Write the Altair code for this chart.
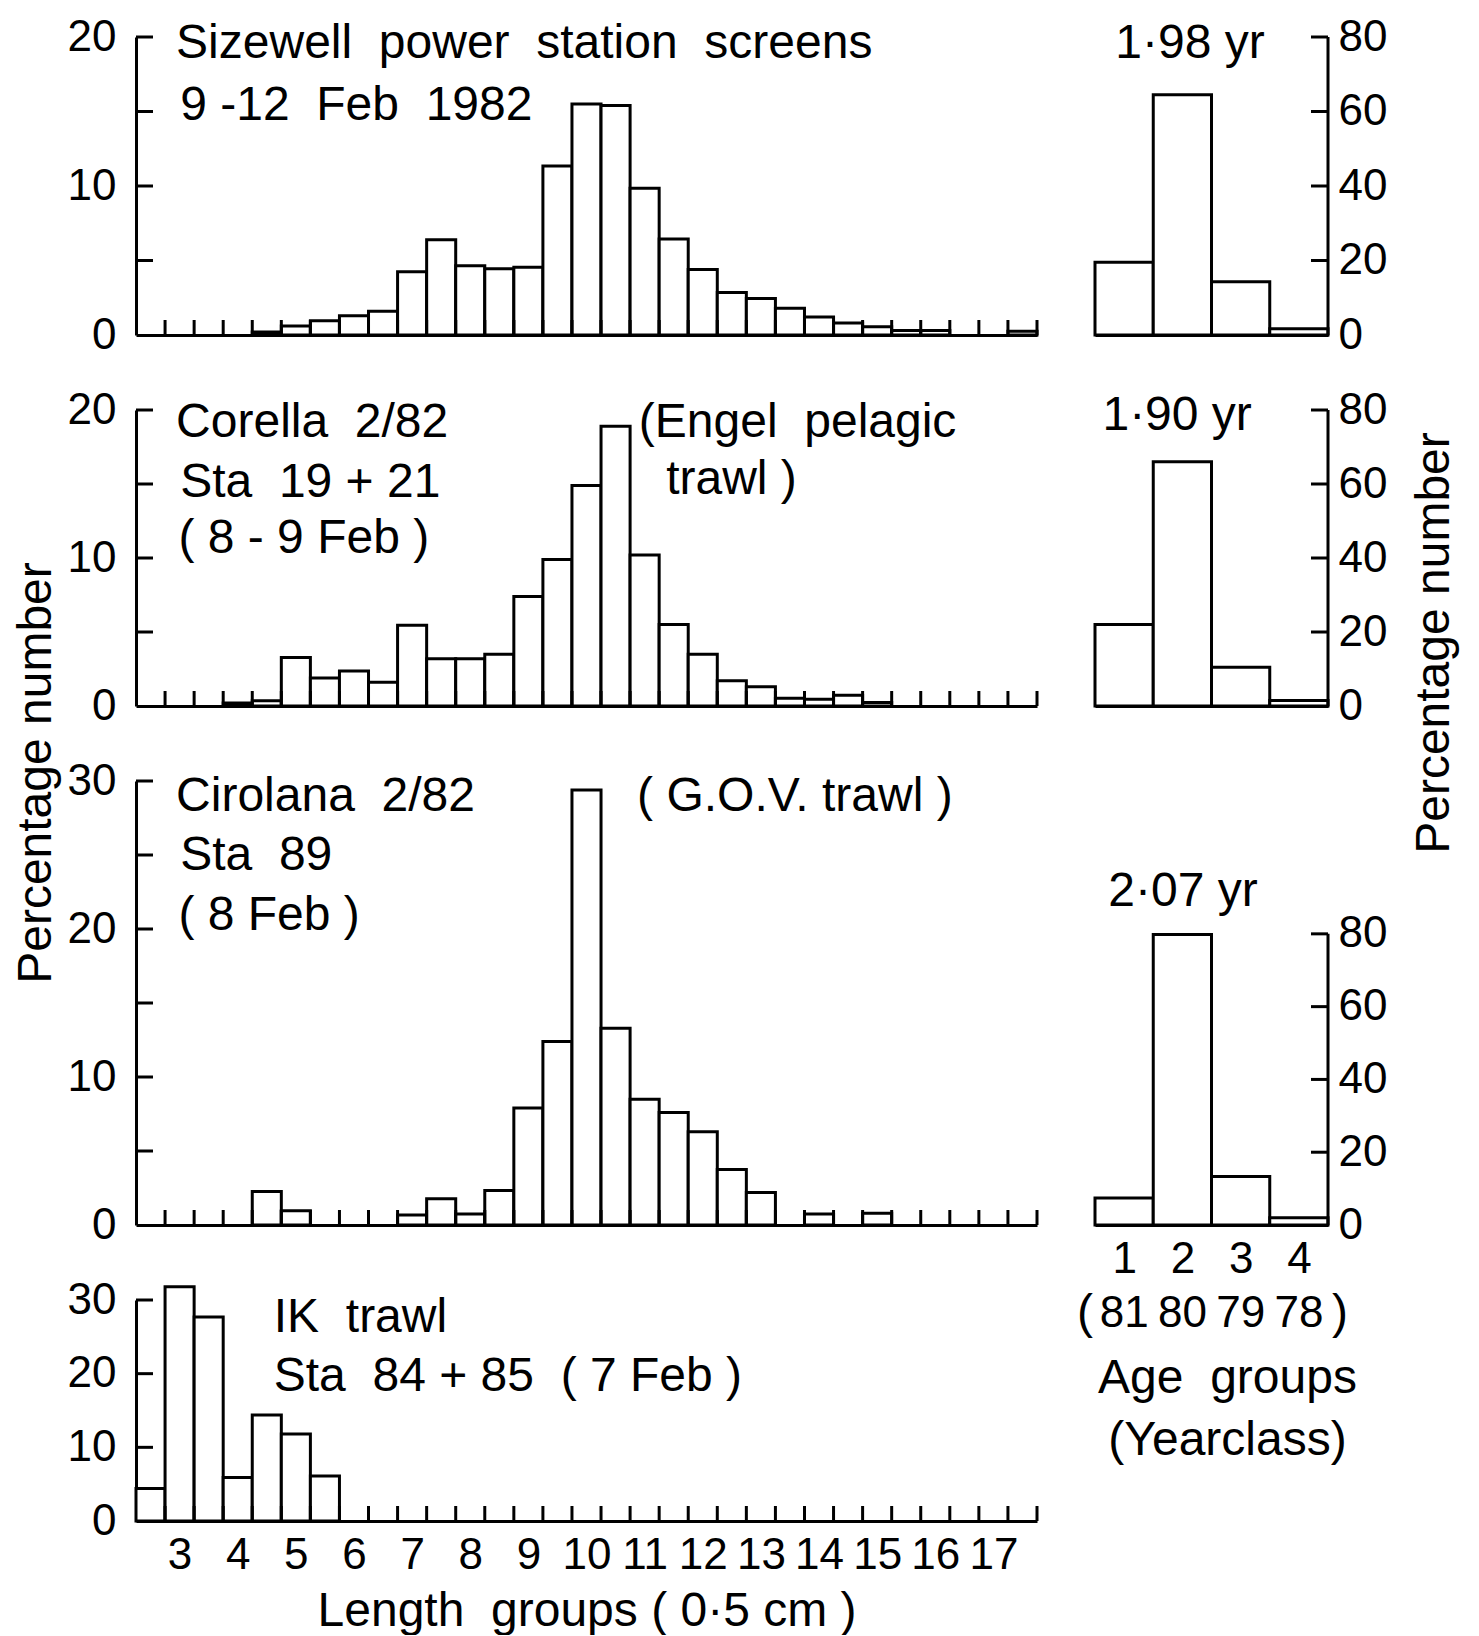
import altair as alt
import pandas as pd

# ---------------- data ----------------
LENGTHS = [2.5, 3.0, 3.5, 4.0, 4.5, 5.0, 5.5, 6.0, 6.5, 7.0, 7.5, 8.0, 8.5, 9.0, 9.5,
           10.0, 10.5, 11.0, 11.5, 12.0, 12.5, 13.0, 13.5, 14.0, 14.5, 15.0, 15.5,
           16.0, 16.5, 17.0, 17.5]
LENGTH_LABELS = [3, 4, 5, 6, 7, 8, 9, 10, 11, 12, 13, 14, 15, 16, 17]

SIZEWELL = [0, 0, 0, 0, 0.2, 0.6, 0.95, 1.3, 1.6, 4.25, 6.4, 4.65, 4.45, 4.55, 11.35,
            15.5, 15.4, 9.85, 6.45, 4.4, 2.85, 2.45, 1.8, 1.2, 0.8, 0.55, 0.3,
            0.3, 0, 0, 0.25]
CORELLA = [0, 0, 0, 0.2, 0.35, 3.27, 1.9, 2.36, 1.6, 5.45, 3.2, 3.2, 3.5, 7.4, 9.9,
           14.9, 18.9, 10.2, 5.5, 3.5, 1.7, 1.3, 0.52, 0.45, 0.73, 0.23, 0,
           0, 0, 0, 0]
CIROLANA = [0, 0, 0, 0, 2.27, 0.97, 0, 0, 0, 0.68, 1.77, 0.75, 2.33, 7.9, 12.4,
            29.4, 13.3, 8.5, 7.6, 6.3, 3.75, 2.2, 0, 0.75, 0, 0.8, 0,
            0, 0, 0, 0]
IK = [4.4, 31.8, 27.7, 5.9, 14.4, 11.8, 6.1, 0, 0, 0, 0, 0, 0, 0, 0,
      0, 0, 0, 0, 0, 0, 0, 0, 0, 0, 0, 0,
      0, 0, 0, 0]

AGE_GROUPS = [1, 2, 3, 4]
YEARCLASS = ["81", "80", "79", "78"]
AGE_SIZEWELL = [19.5, 64.5, 14.3, 1.7]
AGE_CORELLA = [22.0, 66.0, 10.5, 1.5]
AGE_CIROLANA = [7.4, 79.8, 13.3, 2.0]

# ---------------- style ----------------
FONT_TXT = "Liberation Sans, Arial, sans-serif"
FONT_NUM = "Liberation Sans, Arial, sans-serif"
FS = 48
FSN = 44
LW = 3
W_L = 901
W_R = 233
NB = "\u00a0"


def sp(s):
    return s.replace("  ", " " + NB)


def hist_panel(values, ymax, yticks, ylabels, height, notes, bottom=False, ytitle=None):
    df = pd.DataFrame({"len": LENGTHS, "pct": values})
    xs = alt.Scale(domain=[2.25, 17.75], nice=False, zero=False)
    ys = alt.Scale(domain=[0, ymax], nice=False, zero=True)
    if bottom:
        xaxis = alt.Axis(values=LENGTH_LABELS, ticks=False, domain=True,
                         domainColor="black", domainWidth=LW, grid=False,
                         labelFont=FONT_NUM, labelFontSize=FSN, labelColor="black",
                         labelPadding=12, labelFlush=False, labelOverlap=False, labelAngle=0,
                         title=sp("Length  groups ( 0·5 cm )"), titleFont=FONT_TXT, titleFontSize=FS,
                         titleFontWeight="normal", titleColor="black", titlePadding=10)
    else:
        xaxis = alt.Axis(labels=False, ticks=False, domain=True,
                         domainColor="black", domainWidth=LW, grid=False, title=None)
    yaxis = alt.Axis(values=ylabels, ticks=False, domain=True, domainColor="black",
                     domainWidth=LW, grid=False, labelFont=FONT_NUM, labelFontSize=FSN,
                     labelColor="black", labelPadding=20, labelFlush=False, labelOverlap=False,
                     title=None)

    bars = alt.Chart(df).transform_filter("datum.pct > 0").transform_calculate(
        lo="datum.len - 0.25", hi="datum.len + 0.25"
    ).mark_rect(fill="white", stroke="black", strokeWidth=LW).encode(
        x=alt.X("lo:Q", scale=xs, axis=xaxis),
        x2="hi:Q",
        y=alt.Y("pct:Q", scale=ys, axis=yaxis),
        y2=alt.datum(0),
    )
    xtick = alt.Chart(df).transform_calculate(e="datum.len + 0.25").mark_rule(
        color="black", strokeWidth=LW
    ).encode(
        x=alt.X("e:Q", scale=xs, axis=xaxis),
        y=alt.value(height),
        y2=alt.value(height - 15),
    )
    ytick = alt.Chart(pd.DataFrame({"v": yticks})).mark_rule(
        color="black", strokeWidth=LW
    ).encode(
        y=alt.Y("v:Q", scale=ys, axis=yaxis),
        x=alt.value(0),
        x2=alt.value(17),
    )
    ndf = pd.DataFrame(notes, columns=["t", "x", "y"])
    ndf["t"] = ndf["t"].map(sp)
    txt = alt.Chart(ndf).mark_text(
        align="left", baseline="middle", font=FONT_TXT, fontSize=FS, color="black"
    ).encode(
        x=alt.X("x:Q", scale=xs, axis=xaxis),
        y=alt.Y("y:Q", scale=ys, axis=yaxis),
        text="t:N",
    )
    layers = [bars, xtick, ytick, txt]
    if ytitle:
        tt = alt.Chart(pd.DataFrame({"t": [ytitle]})).mark_text(
            angle=270, align="center", baseline="middle", font=FONT_TXT, fontSize=FS,
            color="black"
        ).encode(x=alt.value(-99), y=alt.value(-8), text="t:N")
        layers.append(tt)
    return alt.layer(*layers).properties(width=W_L, height=height)


def age_panel(values, ymax, height, note, bottom=False, ytitle=None):
    df = pd.DataFrame({"age": AGE_GROUPS, "pct": values, "yc": YEARCLASS})
    xs = alt.Scale(domain=[0.5, 4.5], nice=False, zero=False)
    ys = alt.Scale(domain=[0, ymax], nice=False, zero=True)
    if bottom:
        xaxis = alt.Axis(values=AGE_GROUPS, ticks=False, domain=True,
                         domainColor="black", domainWidth=LW, grid=False,
                         labelFont=FONT_NUM, labelFontSize=FSN, labelColor="black",
                         labelPadding=12, labelFlush=False, labelOverlap=False, labelAngle=0,
                         title=None)
    else:
        xaxis = alt.Axis(labels=False, ticks=False, domain=True,
                         domainColor="black", domainWidth=LW, grid=False, title=None)
    yaxis = alt.Axis(orient="right", values=[0, 20, 40, 60, 80], ticks=False,
                     domain=False, grid=False, labelFont=FONT_NUM, labelFontSize=FSN,
                     labelColor="black", labelPadding=10, labelFlush=False, labelOverlap=False,
                     title=None)

    bars = alt.Chart(df).transform_calculate(
        lo="datum.age - 0.5", hi="datum.age + 0.5"
    ).mark_rect(fill="white", stroke="black", strokeWidth=LW).encode(
        x=alt.X("lo:Q", scale=xs, axis=xaxis),
        x2="hi:Q",
        y=alt.Y("pct:Q", scale=ys, axis=yaxis),
        y2=alt.datum(0),
    )
    yline = alt.Chart(pd.DataFrame({"a": [0], "b": [80]})).mark_rule(
        color="black", strokeWidth=LW
    ).encode(
        y=alt.Y("a:Q", scale=ys, axis=yaxis),
        y2="b:Q",
        x=alt.value(W_R),
    )
    ytick = alt.Chart(pd.DataFrame({"v": [20, 40, 60, 80]})).mark_rule(
        color="black", strokeWidth=LW
    ).encode(
        y=alt.Y("v:Q", scale=ys, axis=yaxis),
        x=alt.value(W_R - 17),
        x2=alt.value(W_R),
    )
    ndf = pd.DataFrame([note], columns=["t", "x", "y"])
    txt = alt.Chart(ndf).mark_text(
        align="center", baseline="middle", font=FONT_TXT, fontSize=FS, color="black"
    ).encode(
        x=alt.X("x:Q", scale=xs, axis=xaxis),
        y=alt.Y("y:Q", scale=ys, axis=yaxis),
        text="t:N",
    )
    layers = [bars, yline, ytick, txt]
    if ytitle:
        tt = alt.Chart(pd.DataFrame({"t": [ytitle]})).mark_text(
            angle=270, align="center", baseline="middle", font=FONT_TXT, fontSize=FS,
            color="black"
        ).encode(x=alt.value(W_R + 107), y=alt.value(233), text="t:N")
        layers.append(tt)
    if bottom:
        yc = alt.Chart(df).mark_text(
            align="center", baseline="middle", font=FONT_NUM, fontSize=FSN, color="black"
        ).encode(
            x=alt.X("age:Q", scale=xs, axis=xaxis),
            y=alt.value(height + 89),
            text="yc:N",
        )
        lp = alt.Chart(pd.DataFrame({"t": ["("], "x": [0.5]})).mark_text(
            align="right", baseline="middle", font=FONT_TXT, fontSize=FS, color="black", dx=-2
        ).encode(x=alt.X("x:Q", scale=xs, axis=xaxis), y=alt.value(height + 89), text="t:N")
        rp = alt.Chart(pd.DataFrame({"t": [")"], "x": [4.5]})).mark_text(
            align="left", baseline="middle", font=FONT_TXT, fontSize=FS, color="black", dx=4
        ).encode(x=alt.X("x:Q", scale=xs, axis=xaxis), y=alt.value(height + 89), text="t:N")
        ag1 = alt.Chart(pd.DataFrame({"t": [sp("Age  groups")]})).mark_text(
            align="center", baseline="middle", font=FONT_TXT, fontSize=FS, color="black"
        ).encode(x=alt.value(W_R / 2 + 16), y=alt.value(height + 154), text="t:N")
        ag2 = alt.Chart(pd.DataFrame({"t": ["(Yearclass)"]})).mark_text(
            align="center", baseline="middle", font=FONT_TXT, fontSize=FS, color="black"
        ).encode(x=alt.value(W_R / 2 + 16), y=alt.value(height + 216), text="t:N")
        layers += [yc, lp, rp, ag1, ag2]
    return alt.layer(*layers).properties(width=W_R, height=height)


L1 = hist_panel(SIZEWELL, 20, [5, 10, 15, 20], [0, 10, 20], 298, [
    ("Sizewell  power  station  screens", 2.94, 19.5),
    ("9 -12  Feb  1982", 3.01, 15.4),
])
L2 = hist_panel(CORELLA, 20, [5, 10, 15, 20], [0, 10, 20], 296, [
    ("Corella  2/82", 2.94, 19.1),
    ("Sta  19 + 21", 3.01, 15.05),
    ("( 8 - 9 Feb )", 2.98, 11.3),
    ("(Engel  pelagic", 10.9, 19.1),
    ("trawl )", 11.37, 15.25),
])
L3 = hist_panel(CIROLANA, 30, [5, 10, 15, 20, 25, 30], [0, 10, 20, 30], 444, [
    ("Cirolana  2/82", 2.94, 28.9),
    ("Sta  89", 3.01, 24.9),
    ("( 8 Feb )", 2.98, 20.9),
    ("( G.O.V. trawl )", 10.87, 28.9),
], ytitle="Percentage number")
L4 = hist_panel(IK, 30, [10, 20, 30], [0, 10, 20, 30], 221, [
    ("IK  trawl", 4.62, 27.5),
    ("Sta  84 + 85  ( 7 Feb )", 4.62, 19.5),
], bottom=True)

R1 = age_panel(AGE_SIZEWELL, 80, 298, ("1·98 yr", 2.13, 78.1))
R2 = age_panel(AGE_CORELLA, 80, 296, ("1·90 yr", 1.91, 78.5), ytitle="Percentage number")
R3 = age_panel(AGE_CIROLANA, 122, 444, ("2·07 yr", 2.01, 91.5), bottom=True)

chart = alt.concat(
    L1, R1, L2, R2, L3, R3, L4, columns=2,
    spacing=alt.RowColnumber(row=75, column=58),
    bounds="flush", align="each",
).properties(
    padding={"left": 4, "top": 7, "right": 5, "bottom": 0}
).configure_view(stroke=None)

chart.save("out.html", embed_options={"renderer": "svg", "actions": False})
